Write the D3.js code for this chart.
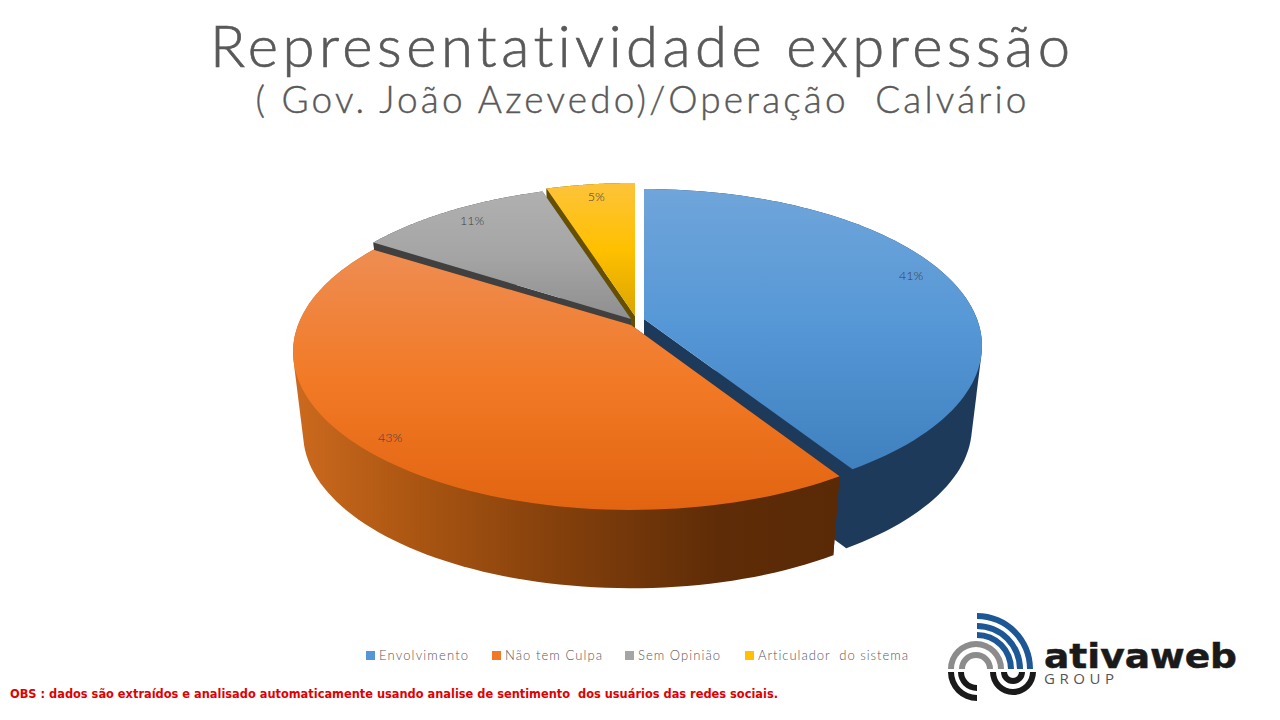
<!DOCTYPE html>
<html>
<head>
<meta charset="utf-8">
<script src="https://cdn.jsdelivr.net/npm/d3@7"></script>
<style>
  html, body { margin: 0; background: #fff; }
  svg { display: block; font-family: Lato, sans-serif; font-variant-ligatures: none; }
  text { white-space: pre; }
</style>
</head>
<body>
<div id="chart"></div>
<script>
// values
const categories = ["Envolvimento", "Não tem Culpa", "Sem Opinião", "Articulador  do sistema"];
const values = [41, 43, 11, 5];
const valueLabels = ["41%", "43%", "11%", "5%"];
const titleLine1 = "Representatividade expressão";
const titleLine2 = "( Gov. João Azevedo)/Operação  Calvário";
const footnote = "OBS : dados são extraídos e analisado automaticamente usando analise de sentimento  dos usuários das redes sociais.";

const width = 1280;
const height = 720;

// pie look: one entry per slice, apex is where the exploded slice ends up
const sliceLook = [
  { apex: [644, 319], squash: 0.977, top: ["#6fa5da", "#5597d6", "#3f80bf"], side: "#1e3a5a", face: "#1e3a5a", labelR: 0.87, labelDy: -8 },
  { apex: [631, 325], squash: 0.984, top: ["#ee8d52", "#f27a26", "#e26411"], side: null, face: "#5e2c06", labelR: 0.91, labelDy: 2 },
  { apex: [631, 319], squash: 1, top: ["#b0b0b0", "#a5a5a5", "#8f8f8f"], side: "#404040", face: "#404040", labelR: 0.87, labelDy: -2 },
  { apex: [635, 316], squash: 1, top: ["#fdc33a", "#ffc000", "#dba500"], side: "#665000", face: "#665000", labelR: 0.85, labelDy: -5 },
];

// perspective of the tilted disc
const tilt = 0.171;
const radiusX = 333;
const radiusY = 155.8;
const depth = 82;
const bottomScaleX = 0.97;
const bottomScaleY = 0.98;

function project(look, angle, r, down) {
  const u = r * Math.sin(angle);
  const v = -r * Math.cos(angle);
  const s = 1 / (1 - tilt * v);
  return [
    look.apex[0] + radiusX * u * s * (down ? bottomScaleX : 1),
    look.apex[1] + radiusY * look.squash * v * s * (down ? bottomScaleY : 1) + (down ? depth : 0),
  ];
}

const svg = d3.select("#chart").append("svg")
  .attr("width", width)
  .attr("height", height)
  .attr("viewBox", [0, 0, width, height]);

const defs = svg.append("defs");
const line = d3.line();
const arcs = d3.pie().sort(null).value((d) => d)(values);

function rim(look, a0, a1, down) {
  const steps = d3.scaleLinear().domain([0, 90]).range([a0, a1]);
  return d3.range(91).map((i) => project(look, steps(i), 1, down));
}

arcs.forEach((d, i) => {
  const grad = defs.append("linearGradient")
    .attr("id", "top" + i)
    .attr("x1", 0).attr("y1", 0).attr("x2", 0).attr("y2", 1);
  sliceLook[i].top.forEach((c, j) => {
    grad.append("stop").attr("offset", j / 2).attr("stop-color", c);
  });
});

const orangeSide = defs.append("linearGradient").attr("id", "orangeSide");
[["0", "#cc6a1e"], ["0.22", "#ab5612"], ["0.47", "#86410c"], ["0.78", "#5e2c07"], ["1", "#5a2906"]].forEach((s) => {
  orangeSide.append("stop").attr("offset", s[0]).attr("stop-color", s[1]);
});

// painter's order: back slices first, orange last
const g = svg.append("g");
[3, 2, 0, 1].forEach((i) => {
  const d = arcs[i];
  const look = sliceLook[i];
  const sideFill = look.side || "url(#orangeSide)";

  // the cut faces
  [d.startAngle, d.endAngle].forEach((a) => {
    g.append("path")
      .attr("fill", look.face)
      .attr("d", line([
        project(look, a, 0, false),
        project(look, a, 1, false),
        project(look, a, 1, true),
        project(look, a, 0, true),
      ]) + "Z");
  });

  // outer wall, the hull also closes the silhouette between both rims
  const hull = d3.polygonHull(rim(look, d.startAngle, d.endAngle, false)
    .concat(rim(look, d.startAngle, d.endAngle, true)));
  g.append("path")
    .attr("fill", sideFill)
    .attr("d", line(hull) + "Z");

  // top surface
  g.append("path")
    .attr("fill", `url(#top${i})`)
    .attr("d", line([project(look, 0, 0, false)]
      .concat(rim(look, d.startAngle, d.endAngle, false))) + "Z");
});

// data labels
svg.append("g")
  .attr("font-size", 12.5)
  .attr("font-weight", 300)
  .attr("text-anchor", "middle")
  .attr("fill", "#404040")
  .selectAll("text")
  .data(arcs)
  .join("text")
  .attr("x", (d, i) => project(sliceLook[i], (d.startAngle + d.endAngle) / 2, sliceLook[i].labelR, false)[0])
  .attr("y", (d, i) => project(sliceLook[i], (d.startAngle + d.endAngle) / 2, sliceLook[i].labelR, false)[1] + sliceLook[i].labelDy + 4)
  .text((d, i) => valueLabels[i]);

// titles
svg.append("text")
  .attr("x", 640).attr("y", 67)
  .attr("text-anchor", "middle")
  .attr("font-size", 58)
  .attr("font-weight", 300)
  .attr("fill", "#595959")
  .attr("stroke", "#595959")
  .attr("stroke-width", 0.7)
  .attr("textLength", 860)
  .text(titleLine1);

svg.append("text")
  .attr("x", 641).attr("y", 113)
  .attr("text-anchor", "middle")
  .attr("font-size", 37)
  .attr("font-weight", 300)
  .attr("fill", "#595959")
  .attr("stroke", "#595959")
  .attr("stroke-width", 0.4)
  .attr("textLength", 771)
  .text(titleLine2);

// legend
const legendX = [366, 492, 625, 745];
const legendW = [89, 97, 82, 150];
const legend = svg.append("g")
  .selectAll("g")
  .data(categories)
  .join("g")
  .attr("transform", (d, i) => `translate(${legendX[i]},651)`);

legend.append("rect")
  .attr("width", 9).attr("height", 9)
  .attr("fill", (d, i) => sliceLook[i].top[1]);

legend.append("text")
  .attr("x", 13).attr("y", 9)
  .attr("font-size", 13)
  .attr("font-weight", 300)
  .attr("fill", "#595959")
  .attr("textLength", (d, i) => legendW[i])
  .text((d) => d);

// footnote
svg.append("text")
  .attr("x", 10).attr("y", 698)
  .attr("font-family", "DejaVu Sans")
  .attr("font-size", 11.5)
  .attr("font-weight", 700)
  .attr("fill", "#e00000")
  .attr("textLength", 768)
  .attr("lengthAdjust", "spacingAndGlyphs")
  .text(footnote);

// logo
const logo = svg.append("g");
const ring = d3.arc();
function band(cx, cy, inner, outer, a0, a1, fill) {
  logo.append("path")
    .attr("transform", `translate(${cx},${cy})`)
    .attr("fill", fill)
    .attr("d", ring({ innerRadius: inner, outerRadius: outer, startAngle: a0, endAngle: a1 }));
}
const pi = Math.PI;
[[50, 56], [40, 46], [31, 37]].forEach((r) => band(977, 669, r[0], r[1], 0, pi / 2, "#1d5795"));
[[22, 28], [11, 17]].forEach((r) => band(976, 669, r[0], r[1], -pi / 2, pi / 2, "#8c8c8c"));
[[23, 29], [13, 19]].forEach((r) => band(977, 672, r[0], r[1], pi, 3 * pi / 2, "#1a1a1a"));
[[17, 23], [6, 12]].forEach((r) => band(1013, 672, r[0], r[1], pi / 2, 3 * pi / 2, "#1a1a1a"));

logo.append("text")
  .attr("x", 1044).attr("y", 668)
  .attr("font-family", "DejaVu Sans")
  .attr("font-size", 34)
  .attr("font-weight", 700)
  .attr("fill", "#1a1a1a")
  .attr("stroke", "#1a1a1a")
  .attr("stroke-width", 0.5)
  .attr("textLength", 193)
  .attr("lengthAdjust", "spacingAndGlyphs")
  .text("ativaweb");

logo.append("text")
  .attr("x", 1044).attr("y", 684)
  .attr("font-family", "Open Sans")
  .attr("font-size", 15)
  .attr("fill", "#555")
  .attr("textLength", 70)
  .text("GROUP");
</script>
</body>
</html>
